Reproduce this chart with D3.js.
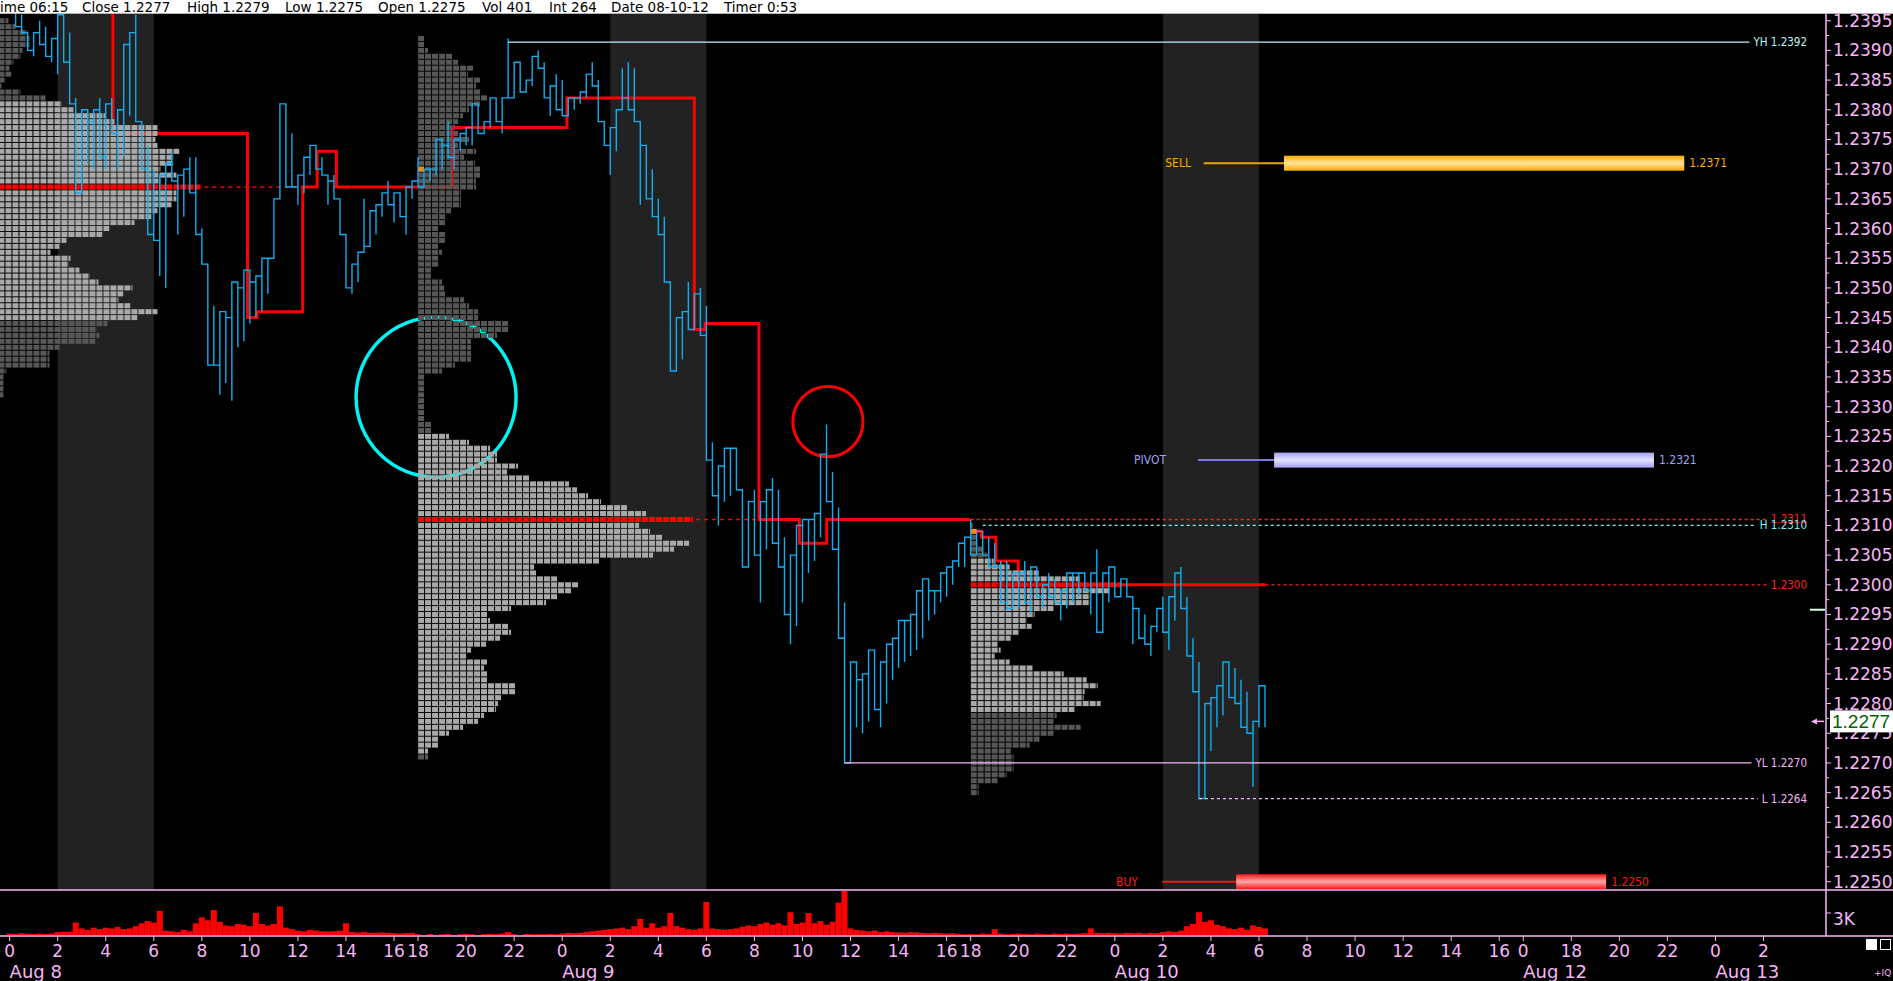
<!DOCTYPE html>
<html><head><meta charset="utf-8">
<script src="https://cdn.jsdelivr.net/npm/d3@7"></script>
<style>html,body{margin:0;padding:0;background:#000;overflow:hidden}</style>
</head><body>
<svg id="c" width="1893" height="981"></svg>
<script>
// ================= DATA =================
const headerItems = ["ime 06:15","Close 1.2277","High 1.2279","Low 1.2275","Open 1.2275","Vol 401","Int 264","Date 08-10-12","Timer 0:53"];

const priceTickLabels = ["1.2395","1.2390","1.2385","1.2380","1.2375","1.2370","1.2365","1.2360","1.2355","1.2350",
  "1.2345","1.2340","1.2335","1.2330","1.2325","1.2320","1.2315","1.2310","1.2305","1.2300",
  "1.2295","1.2290","1.2285","1.2280","1.2275","1.2270","1.2265","1.2260","1.2255","1.2250"];

// session hour index (17:00-18:00 gap removed)
const hourTickT = [0,2,4,6,8,10,12,14,16,17,19,21, 23,25,27,29,31,33,35,37,39,40,42,44, 46,48,50,52,54,56,58,60,62, 63,65,67,69,71,73];
const hourTickLabels = ["0","2","4","6","8","10","12","14","16","18","20","22","0","2","4","6","8","10","12","14","16","18","20","22","0","2","4","6","8","10","12","14","16","0","18","20","22","0","2"];
const dateLabels = ["Aug 8","Aug 9","Aug 10","Aug 12","Aug 13"];
const dateT = [0,23,46,63,71];

const londonStartT = [2,25,48];
const londonEndT = [6,29,52];

// price bars, every quarter hour from t = 0.25
const barStartT = 0.25, barStepT = 0.25;
const barHigh = [
 1.2398,1.2396,1.2393,
 1.2393,1.2395,1.2394,1.2392, 1.2396,1.2397,1.2393,1.2382, 1.2380,1.2378,1.2380,1.2382, 1.2381,1.2382,1.2380,1.2391,
 1.2393,1.2396,1.2378,1.2374, 1.2370,1.2369,1.2371,1.2373, 1.2369,1.2370,1.2372,1.2372, 1.2360,1.2352,1.2347,1.2346,
 1.2345,1.2351,1.2350,1.2353, 1.2351,1.2352,1.2355,1.2355, 1.2365,1.2381,1.2379,1.2376, 1.2369,1.2372,1.2374,1.2373,
 1.2372,1.2368,1.2369,1.2364, 1.2357,1.2354,1.2356,1.2365, 1.2363,1.2364,1.2366,1.2368, 1.2366,1.2365,1.2367,1.2368,
 1.2372,1.2370,1.2370,1.2375, 1.2374,1.2378,1.2375,1.2376, 1.2377,1.2381,1.2379,1.2378, 1.2382,1.2382,1.2382,1.2392,
 1.2388,1.2387,1.2385,1.2389, 1.2390,1.2388,1.2384,1.2386, 1.2385,1.2382,1.2382,1.2383, 1.2386,1.2388,1.2385,1.2378,
 1.2377,1.2380,1.2387,1.2388, 1.2387,1.2374,1.2373,1.2370, 1.2365,1.2362,1.2348,1.2345, 1.2346,1.2351,1.2349,1.2350,
 1.2347,1.2324,1.2320,1.2323, 1.2323,1.2322,1.2315,1.2314, 1.2316,1.2314,1.2316,1.2318, 1.2316,1.2308,1.2305,1.2310,
 1.2311,1.2311,1.2312,1.2322, 1.2327,1.2319,1.2313,1.2297, 1.2287,1.2284,1.2285,1.2289, 1.2288,1.2287,1.2290,1.2291,
 1.2294,1.2294,1.2295,1.2299, 1.2301,1.2299,1.2299,1.2302, 1.2303,1.2304,1.2307,1.2308, 1.2311,1.2309,1.2309,1.2308,
 1.2307,1.2304,1.2304,1.2302, 1.2302,1.2304,1.2303,1.2302, 1.2300,1.2302,1.2301,1.2299, 1.2302,1.2302,1.2302,1.2301,
 1.2302,1.2306,1.2302,1.2303, 1.2303,1.2301,1.2301,1.2296, 1.2296,1.2295,1.2293,1.2296, 1.2298,1.2298,1.2302,1.2303,
 1.2298,1.2291,1.2287,1.2280, 1.2281,1.2283,1.2287,1.2287, 1.2286,1.2284,1.2282,1.2277, 1.2283,1.2283];
const barLow = [
 1.2394,1.2393,1.2390,
 1.2389,1.2391,1.2389,1.2388, 1.2386,1.2388,1.2381,1.2366, 1.2367,1.2371,1.2370,1.2372, 1.2370,1.2376,1.2370,1.2372,
 1.2379,1.2378,1.2370,1.2359, 1.2358,1.2352,1.2350,1.2368, 1.2359,1.2362,1.2366,1.2359, 1.2354,1.2337,1.2337,1.2332,
 1.2334,1.2331,1.2340,1.2341, 1.2344,1.2345,1.2346,1.2349, 1.2355,1.2365,1.2367,1.2367, 1.2364,1.2366,1.2369,1.2370,
 1.2369,1.2364,1.2365,1.2359, 1.2350,1.2349,1.2351,1.2357, 1.2357,1.2359,1.2362,1.2364, 1.2361,1.2362,1.2359,1.2365,
 1.2367,1.2368,1.2368,1.2369, 1.2370,1.2372,1.2370,1.2373, 1.2374,1.2374,1.2376,1.2376, 1.2377,1.2378,1.2376,1.2382,
 1.2382,1.2383,1.2383,1.2384, 1.2387,1.2382,1.2379,1.2380, 1.2379,1.2379,1.2380,1.2381, 1.2382,1.2384,1.2378,1.2374,
 1.2369,1.2373,1.2382,1.2380, 1.2378,1.2364,1.2365,1.2362, 1.2359,1.2351,1.2336,1.2337, 1.2338,1.2343,1.2343,1.2342,
 1.2321,1.2315,1.2310,1.2314, 1.2315,1.2316,1.2303,1.2303, 1.2305,1.2297,1.2306,1.2307, 1.2303,1.2295,1.2290,1.2293,
 1.2297,1.2302,1.2304,1.2308, 1.2314,1.2306,1.2291,1.2270, 1.2273,1.2276,1.2275,1.2277, 1.2279,1.2276,1.2280,1.2284,
 1.2286,1.2287,1.2288,1.2289, 1.2291,1.2294,1.2295,1.2297, 1.2298,1.2300,1.2303,1.2303, 1.2305,1.2305,1.2305,1.2303,
 1.2303,1.2297,1.2296,1.2296, 1.2296,1.2297,1.2295,1.2298, 1.2296,1.2298,1.2297,1.2294, 1.2296,1.2297,1.2298,1.2299,
 1.2295,1.2292,1.2294,1.2297, 1.2298,1.2298,1.2298,1.2290, 1.2291,1.2290,1.2288,1.2292, 1.2292,1.2289,1.2294,1.2296,
 1.2288,1.2282,1.2264,1.2269, 1.2272,1.2276,1.2278,1.2281, 1.2280,1.2276,1.2275,1.2266, 1.2276,1.2276];

// volume, every quarter hour from t = 0
const volStartT = 0, volStepT = 0.25;
const volume = [200,150,250,150,150,200,150,200, 400,450,450, 1700,
 900,700,1000,800,1000,900,1100,800,900,1200, 1600,1900,1700,3300, 600,500,400,700,500,
 1600,2400,2000,3400,1800, 1300,1200,1500,1400,1200,3000,1500,1300,1500, 3900,
 1000,800,600,500,700,600,500,450,500,600, 1600, 400,300,400,300,300,350,300,250,200,250,300,
 100,0,150,0,100,150,0,100,150,100,0,100,150,100,200,400,100,0,150,100,100,100,150,100,
 200,300,250,300,400,500,600,700,800,900,1000,800,1200,
 2200,1000,1600,1000,1200,3000,1200,1000,800,700,900, 4500,
 900,800,700,800,900,1100,1300,1200,1500,1700,1400,1600,1300,
 3100,1500,1700,3000,1600,1900,1400,1800,4400,6000,
 900,700,600,500,600,400,500,400,350,300,400,350,300,250,300,250,200,250,
 150,100,150,100,200,150,800,200,100,150,200,150,100,200,150,100,200,150,200,150,200,250,
 900,300,250,300,250,200,300,250,300,200,300,250,
 400,500,400,600,1200,1500,3100,1800,2000,1400, 1200,900,800,1000,700,1300,1100,900];

// volume profiles (one row per pip, top price downward)
const profileStartT = [-6, 17, 40];
const profileTop = [1.2395, 1.2392, 1.2310];
const profilePOC = [1.2367, 1.2311, 1.2300];
const profileVAHigh = [1.2381, 1.2325, 1.2304];
const profileVALow = [1.2345, 1.2272, 1.2279];
const profileOpen = [null, 1.2370, 1.2309];
const profileAug8 = [143,150,162,164,164,157,155,148,144,146,140,136,155,180,196,208,240,249,292,292,
 290,292,314,308,308,295,311,295,336,311,311,306,292,286,269,244,237,201,194,185,
 205,203,214,224,233,267,258,253,265,292,272,242,231,234,230,194,184,184,184,141,138,138,138,138];
const profileAug9 = [6,6,10,34,40,55,50,62,58,63,69,62,51,45,40,37,40,51,40,58,46,57,62,62,58,58,43,43,43,33,
 27,27,20,27,27,21,24,21,21,13,13,24,26,27,46,51,60,60,90,90,79,53,53,53,53,37,24,6,
 6,6,6,6,6,6,6,13,13,31,51,72,79,79,100,89,111,151,159,170,183,209,228,275,221,232,244,271,256,235,
 181,116,118,139,160,153,139,128,93,69,72,90,93,82,68,53,48,69,66,69,69,97,97,83,80,78,66,60,45,31,20,20,10,10];
const profileAug10 = [2,4,6,6,12,16,23,39,68,109,151,139,119,119,83,64,56,61,48,40,27,30,24,39,62,93,116,127,114,113,
 130,104,86,83,110,83,69,59,40,43,43,43,36,27,8,8];
const profiles = [profileAug8, profileAug9, profileAug10];

// developing point-of-control lines (step after)
const devAug8T = [-0.4, 4.3, 9.9, 10.3, 12.2, 12.8, 13.6, 17.0];
const devAug8P = [1.2400, 1.2376, 1.2345, 1.2346, 1.2367, 1.2373, 1.2367, 1.2367];
const devAug9T = [17.0, 18.4, 23.2, 28.5, 28.95, 31.19, 32.87, 34.01, 39.98];
const devAug9P = [1.2367, 1.2377, 1.2382, 1.2343, 1.2344, 1.2311, 1.2307, 1.2311, 1.2311];
const devAug10T = [40.0, 40.45, 41.05, 41.98, 52.27];
const devAug10P = [1.2309, 1.2308, 1.2304, 1.2300, 1.2300];
// naked POC extensions (dashed) end time
const pocExtEndT = [12.2, 31.19, null];

// key levels
const levelLabels = ["YH 1.2392","1.2311","H 1.2310","1.2300","YL 1.2270","L 1.2264"];
const levelPrices = [1.23914, 1.2311, 1.2310, 1.2300, 1.2270, 1.2264];
const levelStartT = [20.75, 40.0, 40.5, 52.27, 34.75, 49.5];

// orders
const orderNames = ["SELL","PIVOT","BUY"];
const orderPrices = [1.2371, 1.2321, 1.2250];
const orderLabelT = [48.1, 46.8, 46.05];
const orderLineT = [49.7, 49.46, 47.98];
const orderBarT = [53.04, 52.63, 51.05];
const orderBarEndT = [69.7, 68.44, 66.45];

// annotations (circles): centre time, centre price, radius in hours
const circleT = [17.75, 34.06];
const circleP = [1.23316, 1.23275];
const circleR = [3.33, 1.46];

const lastPrice = 1.2277;
const tickMarkPrice = 1.22958;
const volTickLabel = "3K", volTickValue = 3000;

// ================= LAYOUT =================
const W = 1893, H = 981;
const AX = 1826, PT = 13.7, PB = 890, VB = 936;
const svg = d3.select("#c");
const x = d3.scaleLinear().domain([-0.4, 75.6]).range([0, AX]);
const y = d3.scaleLinear().domain([1.2250, 1.2395]).range([881.7, 20.7]);
const vy = d3.scaleLinear().domain([0, 3000]).range([935, 913]);
const pw = d3.scaleLinear().domain([0, 100]).range([0, 100]);
const PINK = "#f6b6f6", BLUE = "#10aef0", RED = "#ff0000";
const AXFONT = "DejaVu Sans, Verdana, sans-serif";
const SMALLFONT = "DejaVu Sans Condensed, Liberation Sans Narrow, Arial Narrow, sans-serif";

svg.append("rect").attr("width", W).attr("height", H).attr("fill", "#000");
const defs = svg.append("defs");
defs.append("clipPath").attr("id","plot").append("rect").attr("x",0).attr("y",PT).attr("width",AX).attr("height",PB-PT);
defs.append("clipPath").attr("id","vol").append("rect").attr("x",0).attr("y",PB).attr("width",AX).attr("height",VB-PB);

const plot = svg.append("g").attr("clip-path","url(#plot)");

// London session bands
plot.selectAll("rect.band").data(londonStartT).join("rect")
  .attr("x", (d)=>x(d)).attr("width",(d,i)=>x(londonEndT[i])-x(d))
  .attr("y", PT).attr("height", PB-PT).attr("fill", "#222222");

// circles
circleT.forEach((t,i)=>{
  plot.append("circle").attr("cx", x(t)).attr("cy", y(circleP[i]))
    .attr("r", x(circleR[i]) - x(0)).attr("fill","none")
    .attr("stroke", i===0 ? "#00f4f4" : RED).attr("stroke-width", i===0 ? 3.5 : 3);
});

// developing POC lines
const stepLine = d3.line().x(d=>x(d[0])).y(d=>y(d[1])).curve(d3.curveStepAfter);
[[devAug8T,devAug8P],[devAug9T,devAug9P],[devAug10T,devAug10P]].forEach(([T,P])=>{
  plot.append("path").attr("d", stepLine(T.map((t,i)=>[t,P[i]])))
    .attr("fill","none").attr("stroke",RED).attr("stroke-width",3);
});

// profile cell patterns
function pattern(id, color, sx){
  const p = defs.append("pattern").attr("id", id).attr("patternUnits","userSpaceOnUse")
    .attr("width",7).attr("height",6).attr("patternTransform",`translate(${sx},0)`);
  p.append("rect").attr("width",6).attr("height",6).attr("fill",color);
}
profiles.forEach((rows, k)=>{
  const sx = x(profileStartT[k]);
  pattern("pl"+k, "#a9a9a9", sx); pattern("pd"+k, "#575757", sx); pattern("pr"+k, RED, sx);
  const g = plot.append("g");
  rows.forEach((w,i)=>{
    const p = +(profileTop[k] - i*0.0001).toFixed(4);
    let fill = "url(#pd"+k+")";
    if (p <= profileVAHigh[k] && p >= profileVALow[k]) fill = "url(#pl"+k+")";
    if (Math.abs(p - profilePOC[k]) < 1e-6) fill = "url(#pr"+k+")";
    g.append("rect").attr("x", sx).attr("y", y(p)-2.5).attr("width", pw(w)).attr("height",5).attr("fill", fill);
    if (profileOpen[k] !== null && Math.abs(p - profileOpen[k]) < 1e-6)
      g.append("rect").attr("x", sx).attr("y", y(p)-2.5).attr("width",6).attr("height",5).attr("fill","#ff8c00");
  });
  if (pocExtEndT[k] !== null) {
    const pi = Math.round((profileTop[k]-profilePOC[k])/0.0001);
    plot.append("line").attr("x1", sx + pw(rows[pi]) + 3).attr("x2", x(pocExtEndT[k]))
      .attr("y1", y(profilePOC[k])).attr("y2", y(profilePOC[k]))
      .attr("stroke", RED).attr("stroke-width",1.5).attr("stroke-dasharray","4,4");
  }
});

// price bars
const bars = barHigh.map((h,i)=>({t: barStartT + i*barStepT, hi: h, lo: barLow[i]}));
let d = "", prevEnd = null;
bars.forEach((b,i)=>{
  const n = bars[i+1];
  const up = n ? (n.hi + n.lo) >= (b.hi + b.lo) : true;
  const a = up ? b.lo : b.hi, c = up ? b.hi : b.lo;
  const X = x(b.t);
  if (prevEnd === null) d += `M${X},${y(a)}`;
  else d += `L${X},${y(prevEnd)}L${X},${y(a)}`;
  d += `L${X},${y(c)}`;
  prevEnd = c;
});
plot.append("path").attr("d", d).attr("fill","none").attr("stroke", BLUE).attr("stroke-width",1.4);

// key levels
const LABEL_RIGHT = 1807;
const levelStyle = [
  {c:"#b8f6f6", dash:null}, {c:"#ff2020", dash:"3,3"}, {c:"#80f0f0", dash:"3,3"},
  {c:"#ff2020", dash:"3,3"}, {c:"#f6b6f6", dash:null}, {c:"#f6b6f6", dash:"3,3"}];
levelLabels.forEach((lab,i)=>{
  const yy = y(levelPrices[i]);
  const t = svg.append("text").attr("x", LABEL_RIGHT).attr("y", yy).attr("text-anchor","end")
    .attr("dominant-baseline","central").attr("fill", levelStyle[i].c)
    .attr("font-family", SMALLFONT).attr("font-size", 11.5).text(lab);
  const len = t.node().getComputedTextLength();
  const ln = svg.insert("line", "text").attr("x1", x(levelStartT[i])).attr("x2", LABEL_RIGHT - len - 4)
    .attr("y1", yy).attr("y2", yy).attr("stroke", levelStyle[i].c).attr("stroke-width", 1.3);
  if (levelStyle[i].dash) ln.attr("stroke-dasharray", levelStyle[i].dash);
});

// orders
const orderEdge = ["#ffaa00","#a2a2f6","#ff1414"];
const orderMid = ["#ffe49a","#e2e2ff","#ffa8a8"];
const orderLine = ["#e8a400","#7a7ae6","#e01c1c"];
orderNames.forEach((nm,i)=>{
  const yy = y(orderPrices[i]);
  const gid = "og"+i;
  const gr = defs.append("linearGradient").attr("id",gid).attr("x1",0).attr("x2",0).attr("y1",0).attr("y2",1);
  gr.append("stop").attr("offset","0%").attr("stop-color",orderEdge[i]);
  gr.append("stop").attr("offset","50%").attr("stop-color",orderMid[i]);
  gr.append("stop").attr("offset","100%").attr("stop-color",orderEdge[i]);
  svg.append("text").attr("x", x(orderLabelT[i])).attr("y", yy).attr("dominant-baseline","central")
    .attr("fill", orderEdge[i]).attr("font-family", SMALLFONT).attr("font-size", 12).text(nm);
  svg.append("line").attr("x1", x(orderLineT[i])).attr("x2", x(orderBarT[i])).attr("y1", yy).attr("y2", yy)
    .attr("stroke", orderLine[i]).attr("stroke-width", 2);
  svg.append("rect").attr("x", x(orderBarT[i])).attr("width", x(orderBarEndT[i]) - x(orderBarT[i]))
    .attr("y", yy-7.5).attr("height", 15).attr("fill", `url(#${gid})`);
  svg.append("text").attr("x", x(orderBarEndT[i]) + 5).attr("y", yy).attr("dominant-baseline","central")
    .attr("fill", orderEdge[i]).attr("font-family", SMALLFONT).attr("font-size", 12).text(orderPrices[i].toFixed(4));
});

// volume
const vg = svg.append("g").attr("clip-path","url(#vol)");
vg.selectAll("rect").data(volume).join("rect")
  .attr("x", (v,i)=>x(volStartT + i*volStepT) - 3).attr("width", 6)
  .attr("y", v=>vy(v)).attr("height", v=>vy(0)-vy(v)).attr("fill", RED);

// pane borders & axes
svg.append("line").attr("x1",0).attr("x2",W).attr("y1",PB).attr("y2",PB).attr("stroke",PINK).attr("stroke-width",1.5);
svg.append("line").attr("x1",0).attr("x2",W).attr("y1",VB).attr("y2",VB).attr("stroke",PINK).attr("stroke-width",1.5);
svg.append("line").attr("x1",AX).attr("x2",AX).attr("y1",PT).attr("y2",VB).attr("stroke",PINK).attr("stroke-width",1.5);

priceTickLabels.forEach((lab,i)=>{
  const v = +lab;
  svg.append("line").attr("x1",AX).attr("x2",AX+5).attr("y1",y(v)).attr("y2",y(v)).attr("stroke",PINK);
  if (i < priceTickLabels.length-1) {
    const m = y((v + (+priceTickLabels[i+1]))/2);
    svg.append("line").attr("x1",AX).attr("x2",AX+3).attr("y1",m).attr("y2",m).attr("stroke",PINK);
  }
  svg.append("text").attr("x", AX+7).attr("y", y(v)).attr("dominant-baseline","central")
    .attr("fill", PINK).attr("font-family", AXFONT).attr("font-size", 17).text(lab);
});
svg.append("line").attr("x1",AX).attr("x2",AX+5).attr("y1",vy(volTickValue)).attr("y2",vy(volTickValue)).attr("stroke",PINK);
svg.append("text").attr("x", AX+7).attr("y", vy(volTickValue)+6).attr("dominant-baseline","central")
  .attr("fill", PINK).attr("font-family", AXFONT).attr("font-size", 17).text(volTickLabel);

hourTickT.forEach((t,i)=>{
  svg.append("line").attr("x1",x(t)).attr("x2",x(t)).attr("y1",VB).attr("y2",VB+5).attr("stroke",PINK);
  svg.append("text").attr("x", x(t)).attr("y", 951).attr("text-anchor","middle").attr("dominant-baseline","central")
    .attr("fill", PINK).attr("font-family", AXFONT).attr("font-size", 17).text(hourTickLabels[i]);
});
dateLabels.forEach((lab,i)=>{
  svg.append("text").attr("x", x(dateT[i])).attr("y", 971).attr("dominant-baseline","central")
    .attr("fill", PINK).attr("font-family", AXFONT).attr("font-size", 18).text(lab);
});

// last price box & markers
svg.append("rect").attr("x",1830).attr("y",y(lastPrice)-11).attr("width",63).attr("height",22).attr("fill","#ffffff");
svg.append("text").attr("x",1832).attr("y",y(lastPrice)).attr("dominant-baseline","central")
  .attr("fill","#006400").attr("font-family","Liberation Sans, Arial, sans-serif").attr("font-size",19).text(lastPrice.toFixed(4));
const ly = y(lastPrice);
svg.append("path").attr("d",`M1811,${ly}L1817,${ly-3}L1817,${ly+3}Z`).attr("fill",PINK);
svg.append("line").attr("x1",1815).attr("x2",1824).attr("y1",ly).attr("y2",ly).attr("stroke",PINK).attr("stroke-width",1.5);
svg.append("line").attr("x1",1810).attr("x2",1825).attr("y1",y(tickMarkPrice)).attr("y2",y(tickMarkPrice))
  .attr("stroke","#d4ffe0").attr("stroke-width",2);

// bottom-right widgets
svg.append("rect").attr("x",1866).attr("y",939).attr("width",11).attr("height",11).attr("fill","#fff");
svg.append("rect").attr("x",1880.5).attr("y",939.5).attr("width",10).attr("height",10).attr("fill","none").attr("stroke","#fff");
svg.append("text").attr("x",1874).attr("y",976).attr("fill",PINK).attr("font-family",AXFONT).attr("font-size",9).text("+IQ");

// header
svg.append("rect").attr("x",0).attr("y",0).attr("width",W).attr("height",PT).attr("fill","#fff");
const headerX = [0,82,187,285,378,482,549,611,724];
headerItems.forEach((s,i)=>{
  svg.append("text").attr("x", headerX[i]).attr("y", 12).attr("fill","#000")
    .attr("font-family", AXFONT).attr("font-size", 13.5).text(s);
});
</script>
</body></html>
